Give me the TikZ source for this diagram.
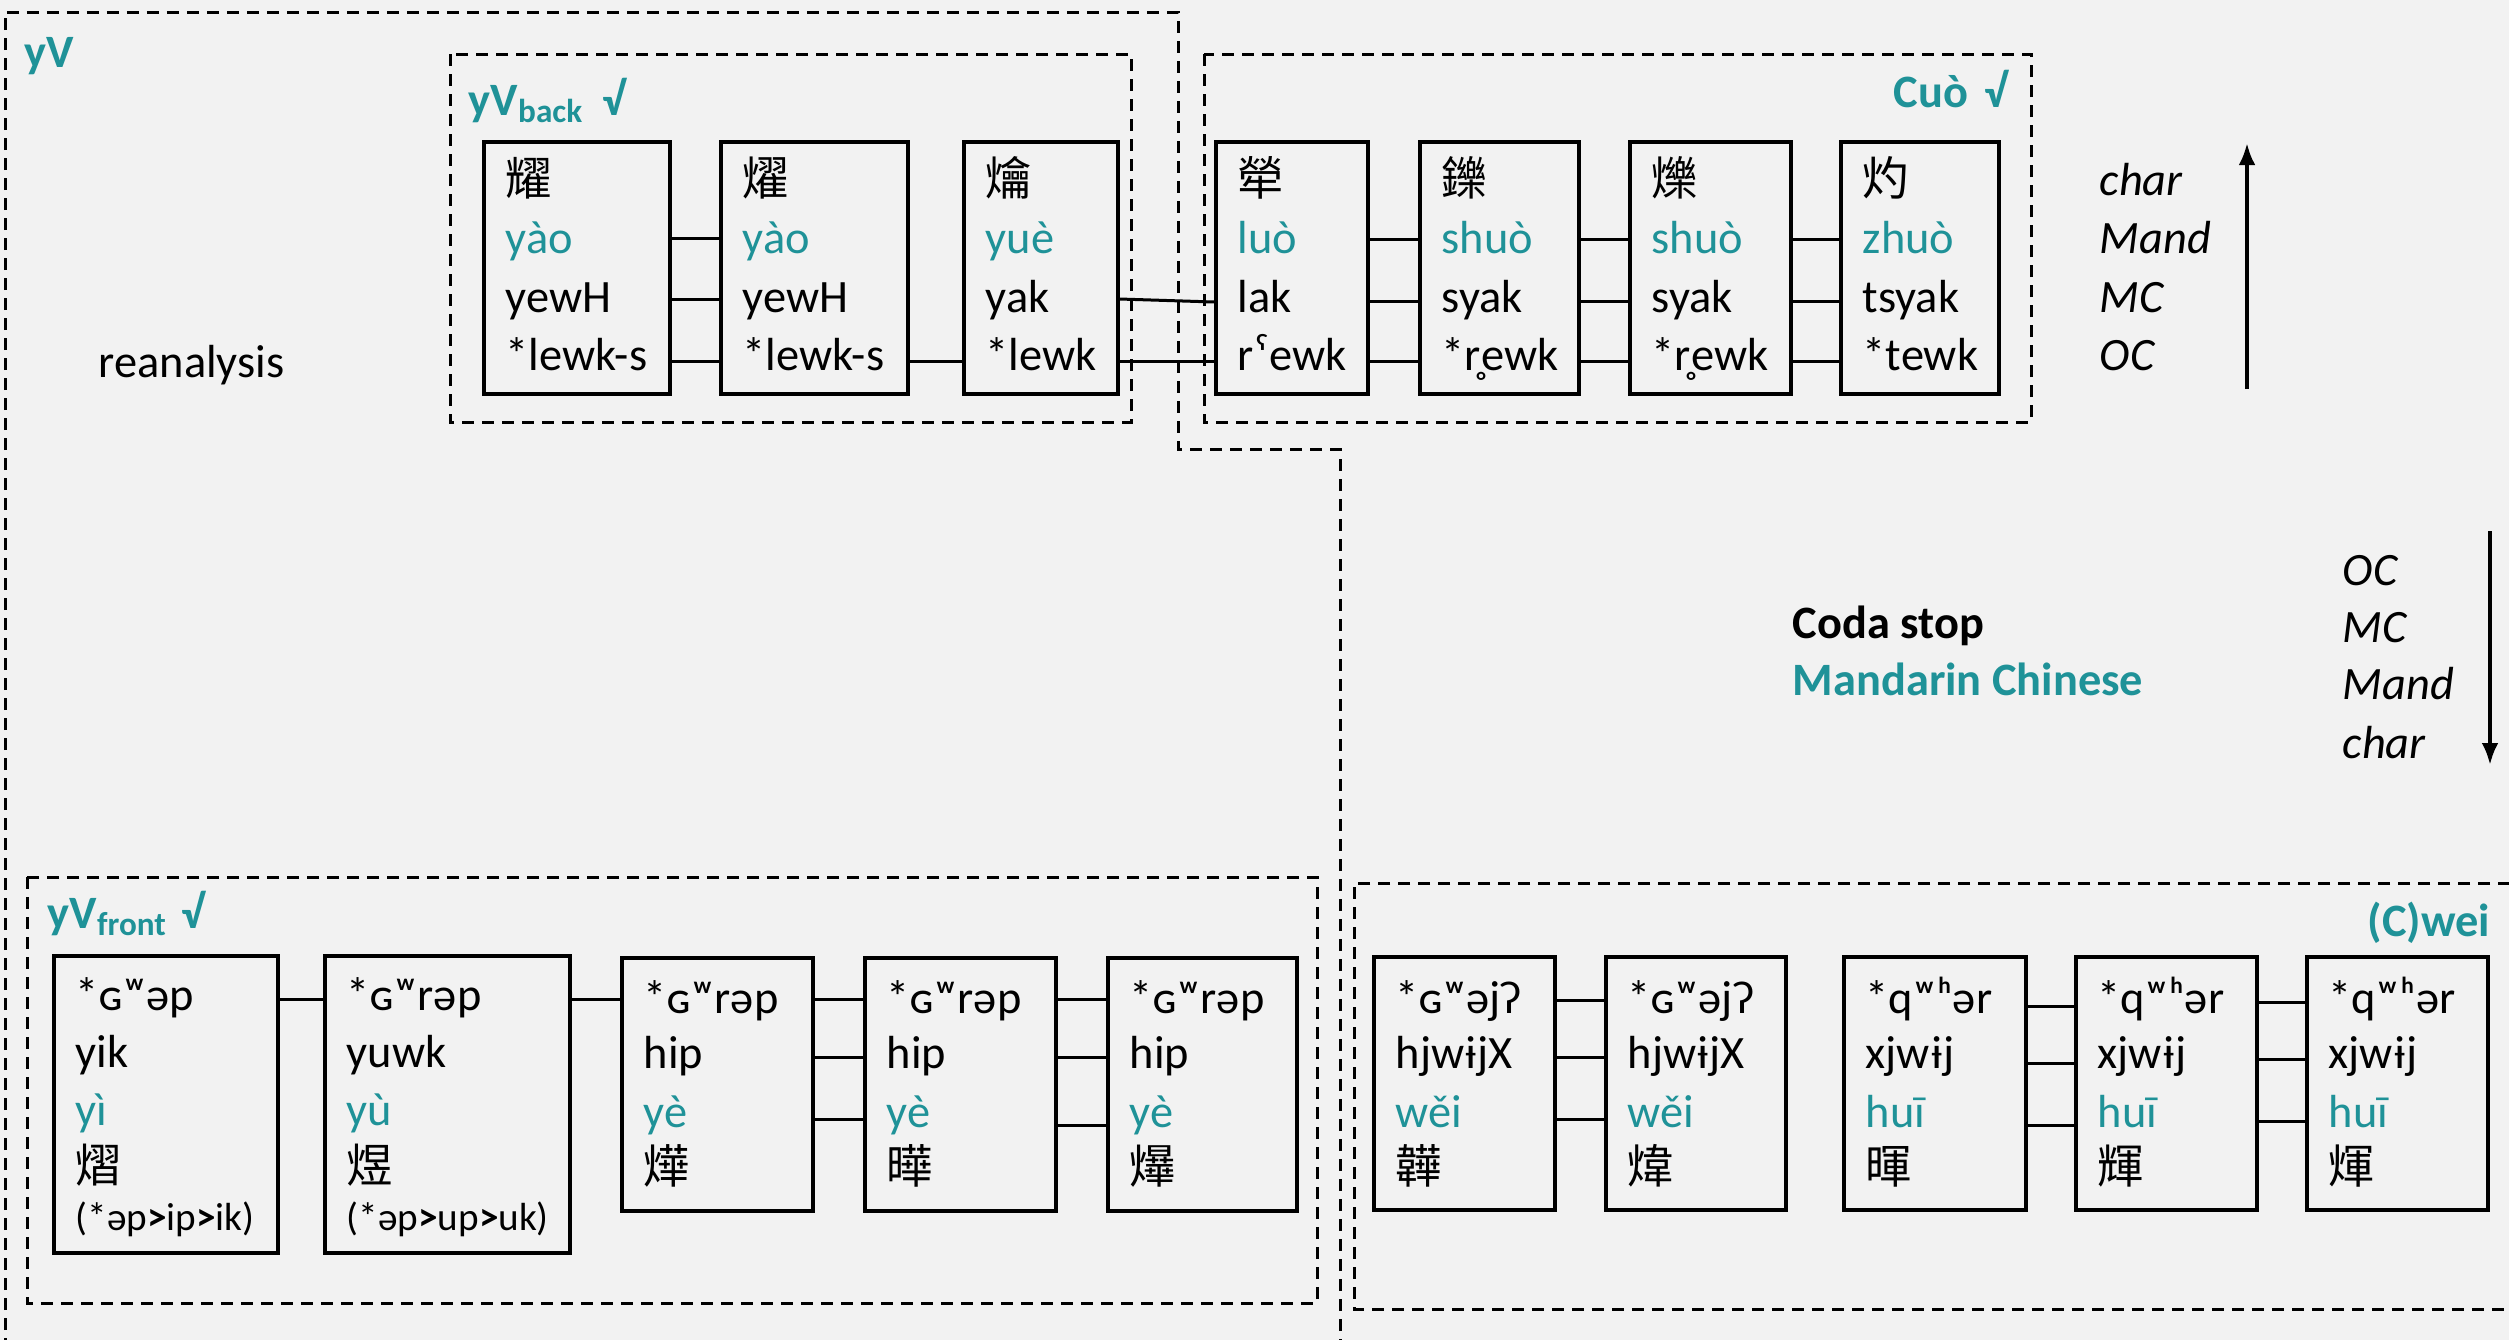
\documentclass[tikz,border=0pt]{standalone}
\usepackage{fontspec}
\setmainfont{Carlito}
\newfontfamily\cjk{Noto Sans CJK TC}
\usetikzlibrary{fit,arrows.meta}
\definecolor{tealc}{RGB}{31,146,152}
\definecolor{bgc}{RGB}{242,242,242}
\newcommand\rowsize{\fontsize{11.6}{14}\selectfont}
\newcommand\subsize{\fontsize{8.3}{10}\selectfont}
\newcommand\pin[1]{{\color{tealc}#1}}
\newcommand\cellrows[3]{%
  \foreach \yy/\rtext [count=\i] in {#3} {\node[row] (#1-\i) at (#2,\yy) {\rtext};}}
\newcommand\lnk[3]{\draw[link] (#1.east |- 0,#3) -- (#2.west |- 0,#3);}
\tikzset{
 cell/.style={draw, line width=0.8pt, inner sep=0pt},
 grp/.style={draw, line width=0.75pt, dash pattern=on 3pt off 2pt},
 row/.style={anchor=base west, inner sep=0pt, font=\rowsize},
 link/.style={line width=0.75pt},
 grplabel/.style={inner sep=0pt, font=\rowsize\bfseries, text=tealc},
 axislabel/.style={anchor=base west, inner sep=0pt, font=\rowsize\itshape},
 arr/.style={line width=1pt, -{Latex[length=5.5pt,width=4.2pt]}},
}
\begin{document}
\begin{tikzpicture}[x=0.25pt,y=-0.25pt]
\useasboundingbox (0,0) rectangle (2509,1340);
\fill[bgc] (0,0) rectangle (2509,1340);

% dashed groups
\draw[grp] (5,1350) -- (5,12) -- (1178,12) -- (1178,449) -- (1340,449) -- (1340,1350);
\draw[grp] (450,54) rectangle (1131,422);
\draw[grp] (1204,54) rectangle (2031,422);
\draw[grp] (27,877) rectangle (1317,1303);
\draw[grp] (2530,883) -- (1354,883) -- (1354,1309) -- (2530,1309);

% group labels
\node[grplabel, anchor=base west] (lyV) at (24,67) {yV};
\node[grplabel, anchor=base west] (lback) at (468,115) {yV\raisebox{-0.35ex}{\subsize back}\hspace{5pt}√};
\node[grplabel, anchor=base east] (lcuo) at (2008,107) {Cuò\hspace{4pt}√};
\node[grplabel, anchor=base west] (lfront) at (47,928) {yV\raisebox{-0.35ex}{\subsize front}\hspace{4pt}√};
\node[grplabel, anchor=base east] (lcwei) at (2491,936) {(C)wei};
\node[row] (rean) at (98,377) {reanalysis};
\node[row, font=\rowsize\bfseries] (coda) at (1792,638) {Coda stop};
\node[grplabel, anchor=base west] (mandc) at (1792,695) {Mandarin Chinese};

% top cells
\node[cell, fit={(484,142) (670,394)}] (A1) {};
\node[cell, fit={(721,142) (908,394)}] (A2) {};
\node[cell, fit={(964,142) (1118,394)}] (A3) {};
\node[cell, fit={(1216,142) (1368,394)}] (B1) {};
\node[cell, fit={(1420,142) (1579,394)}] (B2) {};
\node[cell, fit={(1630,142) (1791,394)}] (B3) {};
\node[cell, fit={(1841,142) (1999,394)}] (B4) {};
\cellrows{A1}{505}{195/{\cjk 耀}, 253/{\pin{yào}}, 312/{yewH}, 370/{*lewk-s}}
\cellrows{A2}{742}{195/{\cjk 燿}, 253/{\pin{yào}}, 312/{yewH}, 370/{*lewk-s}}
\cellrows{A3}{985}{195/{\cjk 爚}, 253/{\pin{yuè}}, 312/{yak}, 370/{*lewk}}
\cellrows{B1}{1237}{195/{\cjk 犖}, 253/{\pin{luò}}, 312/{lak}, 370/{rˤewk}}
\cellrows{B2}{1441}{195/{\cjk 鑠}, 253/{\pin{shuò}}, 312/{syak}, 370/{*r̥ewk}}
\cellrows{B3}{1651}{195/{\cjk 爍}, 253/{\pin{shuò}}, 312/{syak}, 370/{*r̥ewk}}
\cellrows{B4}{1862}{195/{\cjk 灼}, 253/{\pin{zhuò}}, 312/{tsyak}, 370/{*tewk}}
\lnk{A1}{A2}{238} \lnk{A1}{A2}{299} \lnk{A1}{A2}{361}
\lnk{A2}{A3}{361}
\draw[link] (A3.east |- 0,299) -- (B1.west |- 0,302);
\lnk{A3}{B1}{361}
\lnk{B1}{B2}{239} \lnk{B1}{B2}{301} \lnk{B1}{B2}{361}
\lnk{B2}{B3}{239} \lnk{B2}{B3}{301} \lnk{B2}{B3}{361}
\lnk{B3}{B4}{239} \lnk{B3}{B4}{301} \lnk{B3}{B4}{361}

% axis top
\node[axislabel] (t1) at (2099,195) {char};
\node[axislabel] (t2) at (2099,253) {Mand};
\node[axislabel] (t3) at (2099,312) {MC};
\node[axislabel] (t4) at (2099,370) {OC};
\coordinate (up0) at (2247,389);
\coordinate (up1) at (2247,143);
\draw[arr] (up0) -- (up1);

% axis bottom
\node[axislabel] (s1) at (2342,585) {OC};
\node[axislabel] (s2) at (2342,642) {MC};
\node[axislabel] (s3) at (2342,699) {Mand};
\node[axislabel] (s4) at (2342,758) {char};
\coordinate (dn0) at (2490,531);
\coordinate (dn1) at (2490,765);
\draw[arr] (dn0) -- (dn1);

% bottom left cells
\node[cell, fit={(54,956) (278,1253)}] (C1) {};
\node[cell, fit={(325,956) (570,1253)}] (C2) {};
\node[cell, fit={(622,958) (813,1211)}] (C3) {};
\node[cell, fit={(865,958) (1056,1211)}] (C4) {};
\node[cell, fit={(1108,958) (1297,1211)}] (C5) {};
\cellrows{C1}{75}{1010/{*ɢʷəp}, 1067/{yik}, 1125/{\pin{yì}}, 1182/{\cjk 熠}, 1230/{\fontsize{9.8}{11}\selectfont(*əp\textbf{>}ip\textbf{>}ik)}}
\cellrows{C2}{346}{1010/{*ɢʷrəp}, 1067/{yuwk}, 1125/{\pin{yù}}, 1182/{\cjk 煜}, 1230/{\fontsize{9.8}{11}\selectfont(*əp\textbf{>}up\textbf{>}uk)}}
\cellrows{C3}{643}{1013/{*ɢʷrəp}, 1068/{hip}, 1127/{\pin{yè}}, 1183/{\cjk 燁}}
\cellrows{C4}{886}{1013/{*ɢʷrəp}, 1068/{hip}, 1127/{\pin{yè}}, 1183/{\cjk 曄}}
\cellrows{C5}{1129}{1013/{*ɢʷrəp}, 1068/{hip}, 1127/{\pin{yè}}, 1183/{\cjk 爗}}
\lnk{C1}{C2}{999}
\lnk{C2}{C3}{999}
\lnk{C3}{C4}{999} \lnk{C3}{C4}{1057} \lnk{C3}{C4}{1119}
\lnk{C4}{C5}{999} \lnk{C4}{C5}{1057} \lnk{C4}{C5}{1125}

% bottom right cells
\node[cell, fit={(1374,957) (1555,1210)}] (D1) {};
\node[cell, fit={(1606,957) (1786,1210)}] (D2) {};
\node[cell, fit={(1844,957) (2026,1210)}] (D3) {};
\node[cell, fit={(2076,957) (2257,1210)}] (D4) {};
\node[cell, fit={(2307,957) (2488,1210)}] (D5) {};
\cellrows{D1}{1395}{1013/{*ɢʷəjʔ}, 1068/{hjwɨjX}, 1127/{\pin{wěi}}, 1183/{\cjk 韡}}
\cellrows{D2}{1627}{1013/{*ɢʷəjʔ}, 1068/{hjwɨjX}, 1127/{\pin{wěi}}, 1183/{\cjk 煒}}
\cellrows{D3}{1865}{1013/{*qʷʰər}, 1068/{xjwɨj}, 1127/{\pin{huī}}, 1183/{\cjk 暉}}
\cellrows{D4}{2097}{1013/{*qʷʰər}, 1068/{xjwɨj}, 1127/{\pin{huī}}, 1183/{\cjk 輝}}
\cellrows{D5}{2328}{1013/{*qʷʰər}, 1068/{xjwɨj}, 1127/{\pin{huī}}, 1183/{\cjk 煇}}
\lnk{D1}{D2}{1000} \lnk{D1}{D2}{1057} \lnk{D1}{D2}{1119}
\lnk{D3}{D4}{1006} \lnk{D3}{D4}{1063} \lnk{D3}{D4}{1125}
\lnk{D4}{D5}{1002} \lnk{D4}{D5}{1059} \lnk{D4}{D5}{1121}
\end{tikzpicture}
\end{document}
